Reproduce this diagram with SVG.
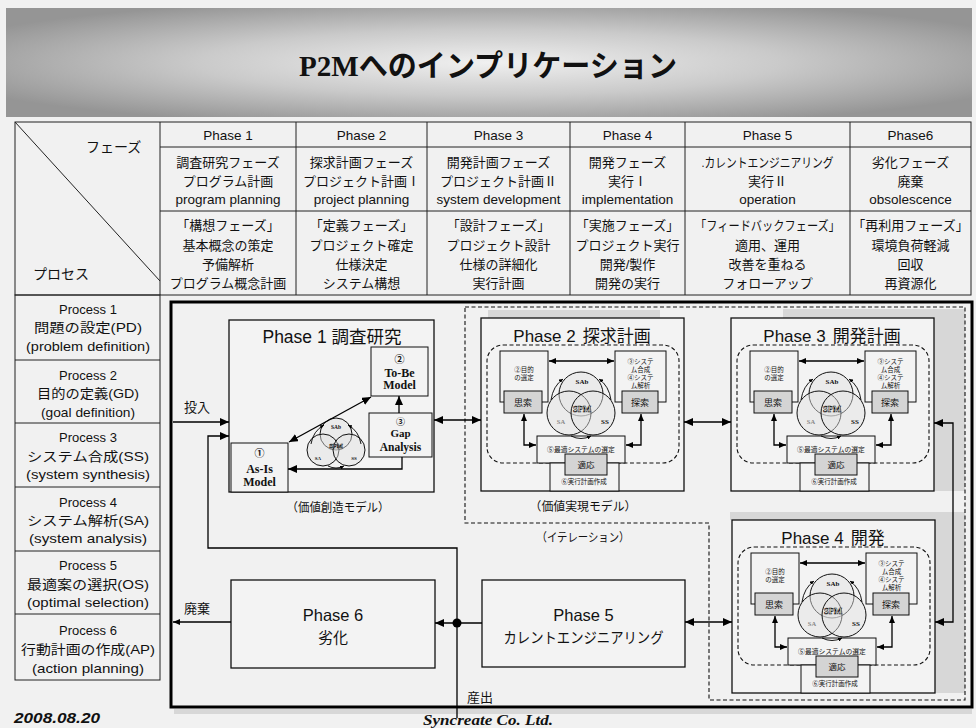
<svg xmlns="http://www.w3.org/2000/svg" width="976" height="728" viewBox="0 0 976 728">
<defs>
<radialGradient id="ban" cx="50%" cy="50%" r="60%">
<stop offset="0" stop-color="#f0f0f0"/>
<stop offset="0.5" stop-color="#cacaca"/>
<stop offset="1" stop-color="#959595"/>
</radialGradient>
<marker id="a8" viewBox="0 0 10 10" refX="10" refY="5" markerWidth="9" markerHeight="8" markerUnits="userSpaceOnUse" orient="auto-start-reverse" preserveAspectRatio="none"><path d="M0,0 L10,5 L0,10 z" fill="#000"/></marker>
<marker id="a6" viewBox="0 0 10 10" refX="10" refY="5" markerWidth="7" markerHeight="6" markerUnits="userSpaceOnUse" orient="auto-start-reverse" preserveAspectRatio="none"><path d="M0,0 L10,5 L0,10 z" fill="#000"/></marker>
<marker id="a3" viewBox="0 0 10 10" refX="10" refY="5" markerWidth="4" markerHeight="4" markerUnits="userSpaceOnUse" orient="auto" preserveAspectRatio="none"><path d="M0,0 L10,5 L0,10 z" fill="#000"/></marker>
<style>
.s{font-family:"Liberation Sans","Noto Sans CJK JP",sans-serif;fill:#111}
.sf{font-family:"Liberation Serif","Noto Sans CJK JP",serif;font-weight:bold;fill:#111}
.spm{font-family:"Liberation Serif",serif;font-weight:bold;fill:#fff;stroke:#111;stroke-width:0.5}
.c{text-anchor:middle}
.j13{font-size:13px}
.l13{font-size:13.5px}
.g{fill:none;stroke:#222;stroke-width:1}
.bx{fill:#f3f3f3;stroke:#111;stroke-width:1.3}
.ib{fill:#f3f3f3;stroke:#111;stroke-width:1}
.sb{fill:#d4d4d4;stroke:#111;stroke-width:1}
.dsh{fill:none;stroke:#111;stroke-width:1.1;stroke-dasharray:4 2.5}
.ln{fill:none;stroke:#000;stroke-width:1.3}
.lt{fill:none;stroke:#000;stroke-width:0.9}
.vn{fill:#e2e2e2;fill-opacity:0.45;stroke:#111;stroke-width:1}
.sh{fill:#d7d7d7}
.ph{font-size:17px}
.t6{font-size:6.5px}
.t9{font-size:9px}
</style>
</defs>

<rect x="0" y="0" width="976" height="728" fill="#f1f1f1"/>

<g id="banner">
<rect x="6" y="8" width="966" height="109" fill="url(#ban)"/>
<text class="sf c" x="488" y="76" font-size="30" textLength="378" lengthAdjust="spacingAndGlyphs">P2Mへのインプリケーション</text>
</g>

<g id="table">
<rect class="g" x="15" y="122" width="956" height="173" fill="#f4f4f4"/>
<line class="g" x1="160" y1="122" x2="160" y2="295"/>
<line class="g" x1="296" y1="122" x2="296" y2="295"/>
<line class="g" x1="427" y1="122" x2="427" y2="295"/>
<line class="g" x1="570" y1="122" x2="570" y2="295"/>
<line class="g" x1="685" y1="122" x2="685" y2="295"/>
<line class="g" x1="850" y1="122" x2="850" y2="295"/>
<line class="g" x1="160" y1="147" x2="971" y2="147"/>
<line class="g" x1="160" y1="211" x2="971" y2="211"/>
<line class="g" x1="15" y1="122" x2="160" y2="281"/>
<text class="s" x="86" y="152" font-size="14">フェーズ</text>
<text class="s" x="33" y="279" font-size="14">プロセス</text>

<g class="s c">
<text class="l13" x="228" y="139.5">Phase 1</text>
<text class="l13" x="361.5" y="139.5">Phase 2</text>
<text class="l13" x="498.5" y="139.5">Phase 3</text>
<text class="l13" x="627.5" y="139.5">Phase 4</text>
<text class="l13" x="767.5" y="139.5">Phase 5</text>
<text class="l13" x="910.5" y="139.5">Phase6</text>

<text class="j13" x="228" y="166.5">調査研究フェーズ</text>
<text class="j13" x="228" y="185.5">プログラム計画</text>
<text class="l13" x="228" y="203.5">program planning</text>
<text class="j13" x="361.5" y="166.5">探求計画フェーズ</text>
<text class="j13" x="361.5" y="185.5">プロジェクト計画Ⅰ</text>
<text class="l13" x="361.5" y="203.5">project planning</text>
<text class="j13" x="498.5" y="166.5">開発計画フェーズ</text>
<text class="j13" x="498.5" y="185.5">プロジェクト計画Ⅱ</text>
<text class="l13" x="498.5" y="203.5">system development</text>
<text class="j13" x="627.5" y="166.5">開発フェーズ</text>
<text class="j13" x="627.5" y="185.5">実行Ⅰ</text>
<text class="l13" x="627.5" y="203.5">implementation</text>
<text class="j13" x="767.5" y="166.5" textLength="132" lengthAdjust="spacingAndGlyphs">.カレントエンジニアリング</text>
<text class="j13" x="767.5" y="185.5">実行Ⅱ</text>
<text class="l13" x="767.5" y="203.5">operation</text>
<text class="j13" x="910.5" y="166.5">劣化フェーズ</text>
<text class="j13" x="910.5" y="185.5">廃棄</text>
<text class="l13" x="910.5" y="203.5">obsolescence</text>

<text class="j13" x="228" y="229.5">「構想フェーズ」</text>
<text class="j13" x="228" y="249.5">基本概念の策定</text>
<text class="j13" x="228" y="268.5">予備解析</text>
<text class="j13" x="228" y="287.5">プログラム概念計画</text>
<text class="j13" x="361.5" y="229.5">「定義フェーズ」</text>
<text class="j13" x="361.5" y="249.5">プロジェクト確定</text>
<text class="j13" x="361.5" y="268.5">仕様決定</text>
<text class="j13" x="361.5" y="287.5">システム構想</text>
<text class="j13" x="498.5" y="229.5">「設計フェーズ」</text>
<text class="j13" x="498.5" y="249.5">プロジェクト設計</text>
<text class="j13" x="498.5" y="268.5">仕様の詳細化</text>
<text class="j13" x="498.5" y="287.5">実行計画</text>
<text class="j13" x="627.5" y="229.5">「実施フェーズ」</text>
<text class="j13" x="627.5" y="249.5">プロジェクト実行</text>
<text class="j13" x="627.5" y="268.5">開発/製作</text>
<text class="j13" x="627.5" y="287.5">開発の実行</text>
<text class="j13" x="767.5" y="229.5" textLength="145" lengthAdjust="spacingAndGlyphs">「フィードバックフェーズ」</text>
<text class="j13" x="767.5" y="249.5">適用、運用</text>
<text class="j13" x="767.5" y="268.5">改善を重ねる</text>
<text class="j13" x="767.5" y="287.5">フォローアップ</text>
<text class="j13" x="910.5" y="229.5">「再利用フェーズ」</text>
<text class="j13" x="910.5" y="249.5">環境負荷軽減</text>
<text class="j13" x="910.5" y="268.5">回収</text>
<text class="j13" x="910.5" y="287.5">再資源化</text>
</g>
</g>

<g id="processes">
<rect class="g" x="15" y="295" width="145" height="385" fill="#f4f4f4"/>
<line class="g" x1="15" y1="360" x2="160" y2="360"/>
<line class="g" x1="15" y1="423" x2="160" y2="423"/>
<line class="g" x1="15" y1="487" x2="160" y2="487"/>
<line class="g" x1="15" y1="551" x2="160" y2="551"/>
<line class="g" x1="15" y1="614" x2="160" y2="614"/>
<g class="s c" font-size="13">
<text x="88" y="313.5">Process 1</text>
<text x="88" y="331.5" textLength="108" lengthAdjust="spacingAndGlyphs">問題の設定(PD)</text>
<text x="88" y="350.5" textLength="124" lengthAdjust="spacingAndGlyphs">(problem definition)</text>
<text x="88" y="379.5">Process 2</text>
<text x="88" y="397.5" textLength="102" lengthAdjust="spacingAndGlyphs">目的の定義(GD)</text>
<text x="88" y="416.5" textLength="94" lengthAdjust="spacingAndGlyphs">(goal definition)</text>
<text x="88" y="441.5">Process 3</text>
<text x="88" y="460.5" textLength="122" lengthAdjust="spacingAndGlyphs">システム合成(SS)</text>
<text x="88" y="478.5" textLength="124" lengthAdjust="spacingAndGlyphs">(system synthesis)</text>
<text x="88" y="506.5">Process 4</text>
<text x="88" y="524.5" textLength="122" lengthAdjust="spacingAndGlyphs">システム解析(SA)</text>
<text x="88" y="542.5" textLength="118" lengthAdjust="spacingAndGlyphs">(system analysis)</text>
<text x="88" y="569.5">Process 5</text>
<text x="88" y="588.5" textLength="122" lengthAdjust="spacingAndGlyphs">最適案の選択(OS)</text>
<text x="88" y="606.5" textLength="122" lengthAdjust="spacingAndGlyphs">(optimal selection)</text>
<text x="88" y="634.5">Process 6</text>
<text x="88" y="653.5" textLength="134" lengthAdjust="spacingAndGlyphs">行動計画の作成(AP)</text>
<text x="88" y="672.5" textLength="112" lengthAdjust="spacingAndGlyphs">(action planning)</text>
</g>
</g>

<g id="shades">
<rect class="sh" x="488" y="310" width="172" height="8"/>
<rect class="sh" x="783" y="309" width="182" height="9"/>
<rect class="sh" x="933" y="318" width="32" height="173"/>
<rect class="sh" x="730" y="512" width="235" height="8"/>
<rect class="sh" x="935" y="520" width="30" height="173"/>
<rect class="sh" x="174" y="709" width="798" height="5"/>
</g>

<g id="frame">
<rect x="171" y="302" width="801" height="405" fill="none" stroke="#000" stroke-width="3"/>
</g>

<g id="iteration">
<path class="dsh" d="M465,307 H965 V700 H709 V523 H465 Z"/>
<text class="s c" x="583" y="542" font-size="12" textLength="93" lengthAdjust="spacingAndGlyphs">（イテレーション）</text>
</g>

<g id="phase1">
<rect class="bx" x="229" y="320" width="205" height="172"/>
<text class="s c" x="332" y="343" font-size="17.5">Phase 1 調査研究</text>
<text class="s c" x="338" y="512" font-size="12" textLength="103" lengthAdjust="spacingAndGlyphs">（価値創造モデル）</text>
<g id="venn1">
<circle class="vn" cx="336" cy="434" r="16"/>
<circle class="vn" cx="323" cy="450" r="16"/>
<circle class="vn" cx="349" cy="450" r="16"/>
<path class="lt" d="M311,444 Q313,431 324,425" marker-end="url(#a3)"/>
<path class="lt" d="M361,444 Q359,431 348,425" marker-end="url(#a3)"/>
<path class="lt" d="M328,466 Q336,470 344,466" marker-end="url(#a3)"/>
<text class="sf c" x="336" y="429" font-size="5.5">SAb</text>
<text class="spm c" x="336" y="448" font-size="6.5" stroke-width="0.4">SPM</text>
<text class="sf c" x="318" y="460" font-size="5">SA</text>
<text class="sf c" x="354" y="460" font-size="5">SS</text>
</g>
<g id="tobe">
<rect class="ib" x="371" y="347" width="57" height="49" stroke-width="1.3"/>
<text class="sf c" x="399.5" y="363" font-size="10">②</text>
<text class="sf c" x="399.5" y="376.5" font-size="12">To-Be</text>
<text class="sf c" x="399.5" y="389" font-size="12">Model</text>
</g>
<g id="gap">
<rect class="ib" x="369" y="413" width="63" height="44" stroke-width="1.3"/>
<text class="sf c" x="400.5" y="424.5" font-size="9">③</text>
<text class="sf c" x="400.5" y="437" font-size="11">Gap</text>
<text class="sf c" x="400.5" y="451" font-size="11.5">Analysis</text>
</g>
<g id="asis">
<rect class="ib" x="231" y="443" width="57" height="49" stroke-width="1.3"/>
<text class="sf c" x="259.5" y="457" font-size="10">①</text>
<text class="sf c" x="259.5" y="473" font-size="12">As-Is</text>
<text class="sf c" x="259.5" y="485.5" font-size="12">Model</text>
</g>
</g>

<g id="phase2" transform="translate(481,318)">
<rect class="bx" x="0" y="0" width="203" height="173"/>
<text class="s c ph" x="101" y="24">Phase 2<tspan dx="7">探求計画</tspan></text>
<rect class="dsh" x="6" y="27" width="192" height="118" rx="16"/>
<rect class="ib" x="19" y="33" width="48" height="51"/>
<rect class="ib" x="134" y="33" width="51" height="51"/>
<circle class="vn" cx="100" cy="76" r="22"/>
<circle class="vn" cx="88" cy="95" r="22"/>
<circle class="vn" cx="112" cy="95" r="22"/>
<rect class="sb" x="23" y="73" width="38" height="22"/>
<rect class="sb" x="141" y="73" width="36" height="22"/>
<rect class="ib" x="56" y="118" width="88" height="27"/>
<rect class="ib" x="69" y="145" width="69" height="28"/>
<rect class="sb" x="84" y="136" width="42" height="21"/>
<line class="ln" x1="68" y1="43" x2="133" y2="43" marker-start="url(#a6)" marker-end="url(#a6)"/>
<path class="ln" d="M43,96 V127 H55" marker-start="url(#a6)" marker-end="url(#a6)"/>
<path class="ln" d="M160,96 V127 H145" marker-start="url(#a6)" marker-end="url(#a6)"/>
<path class="lt" d="M70,82 Q72,68 82,61" marker-end="url(#a3)"/>
<path class="lt" d="M130,82 Q128,68 118,61" marker-end="url(#a3)"/>
<path class="lt" d="M90,118 Q100,123 110,118" marker-end="url(#a3)"/>
<text class="s c t6" x="43" y="54">②目的</text>
<text class="s c t6" x="43" y="62">の選定</text>
<text class="s c t6" x="159.5" y="46">③システ</text>
<text class="s c t6" x="159.5" y="54">ム合成</text>
<text class="s c t6" x="159.5" y="62">④システ</text>
<text class="s c t6" x="159.5" y="70">ム解析</text>
<text class="s c t9" x="42" y="88">思索</text>
<text class="s c t9" x="159" y="88">探索</text>
<text class="sf c" x="101" y="66" font-size="7">SAb</text>
<text class="spm c" x="101" y="94" font-size="8.5">SPM</text>
<text class="sf c" x="124" y="106" font-size="7">SS</text>
<text class="sf c" x="80" y="106" font-size="6.5" style="fill:#888">SA</text>
<text class="s c" x="100" y="134" font-size="6.8">⑤最適システムの選定</text>
<text class="s c" x="105" y="150" font-size="8.5">適応</text>
<text class="s c t6" x="103" y="166">⑥実行計画作成</text>
</g>

<g id="phase3" transform="translate(731,318)">
<rect class="bx" x="0" y="0" width="203" height="173"/>
<text class="s c ph" x="101" y="24">Phase 3<tspan dx="7">開発計画</tspan></text>
<rect class="dsh" x="6" y="27" width="192" height="118" rx="16"/>
<rect class="ib" x="19" y="33" width="48" height="51"/>
<rect class="ib" x="134" y="33" width="51" height="51"/>
<circle class="vn" cx="100" cy="76" r="22"/>
<circle class="vn" cx="88" cy="95" r="22"/>
<circle class="vn" cx="112" cy="95" r="22"/>
<rect class="sb" x="23" y="73" width="38" height="22"/>
<rect class="sb" x="141" y="73" width="36" height="22"/>
<rect class="ib" x="56" y="118" width="88" height="27"/>
<rect class="ib" x="69" y="145" width="69" height="28"/>
<rect class="sb" x="84" y="136" width="42" height="21"/>
<line class="ln" x1="68" y1="43" x2="133" y2="43" marker-start="url(#a6)" marker-end="url(#a6)"/>
<path class="ln" d="M43,96 V127 H55" marker-start="url(#a6)" marker-end="url(#a6)"/>
<path class="ln" d="M160,96 V127 H145" marker-start="url(#a6)" marker-end="url(#a6)"/>
<path class="lt" d="M70,82 Q72,68 82,61" marker-end="url(#a3)"/>
<path class="lt" d="M130,82 Q128,68 118,61" marker-end="url(#a3)"/>
<path class="lt" d="M90,118 Q100,123 110,118" marker-end="url(#a3)"/>
<text class="s c t6" x="43" y="54">②目的</text>
<text class="s c t6" x="43" y="62">の選定</text>
<text class="s c t6" x="159.5" y="46">③システ</text>
<text class="s c t6" x="159.5" y="54">ム合成</text>
<text class="s c t6" x="159.5" y="62">④システ</text>
<text class="s c t6" x="159.5" y="70">ム解析</text>
<text class="s c t9" x="42" y="88">思索</text>
<text class="s c t9" x="159" y="88">探索</text>
<text class="sf c" x="101" y="66" font-size="7">SAb</text>
<text class="spm c" x="101" y="94" font-size="8.5">SPM</text>
<text class="sf c" x="124" y="106" font-size="7">SS</text>
<text class="sf c" x="80" y="106" font-size="6.5" style="fill:#888">SA</text>
<text class="s c" x="100" y="134" font-size="6.8">⑤最適システムの選定</text>
<text class="s c" x="105" y="150" font-size="8.5">適応</text>
<text class="s c t6" x="103" y="166">⑥実行計画作成</text>
</g>

<g id="phase4" transform="translate(732,520)">
<rect class="bx" x="0" y="0" width="203" height="173"/>
<text class="s c ph" x="101" y="24">Phase 4<tspan dx="7">開発</tspan></text>
<rect class="dsh" x="6" y="27" width="192" height="118" rx="16"/>
<rect class="ib" x="19" y="33" width="48" height="51"/>
<rect class="ib" x="134" y="33" width="51" height="51"/>
<circle class="vn" cx="100" cy="76" r="22"/>
<circle class="vn" cx="88" cy="95" r="22"/>
<circle class="vn" cx="112" cy="95" r="22"/>
<rect class="sb" x="23" y="73" width="38" height="22"/>
<rect class="sb" x="141" y="73" width="36" height="22"/>
<rect class="ib" x="56" y="118" width="88" height="27"/>
<rect class="ib" x="69" y="145" width="69" height="28"/>
<rect class="sb" x="84" y="136" width="42" height="21"/>
<line class="ln" x1="68" y1="43" x2="133" y2="43" marker-start="url(#a6)" marker-end="url(#a6)"/>
<path class="ln" d="M43,96 V127 H55" marker-start="url(#a6)" marker-end="url(#a6)"/>
<path class="ln" d="M160,96 V127 H145" marker-start="url(#a6)" marker-end="url(#a6)"/>
<path class="lt" d="M70,82 Q72,68 82,61" marker-end="url(#a3)"/>
<path class="lt" d="M130,82 Q128,68 118,61" marker-end="url(#a3)"/>
<path class="lt" d="M90,118 Q100,123 110,118" marker-end="url(#a3)"/>
<text class="s c t6" x="43" y="54">②目的</text>
<text class="s c t6" x="43" y="62">の選定</text>
<text class="s c t6" x="159.5" y="46">③システ</text>
<text class="s c t6" x="159.5" y="54">ム合成</text>
<text class="s c t6" x="159.5" y="62">④システ</text>
<text class="s c t6" x="159.5" y="70">ム解析</text>
<text class="s c t9" x="42" y="88">思索</text>
<text class="s c t9" x="159" y="88">探索</text>
<text class="sf c" x="101" y="66" font-size="7">SAb</text>
<text class="spm c" x="101" y="94" font-size="8.5">SPM</text>
<text class="sf c" x="124" y="106" font-size="7">SS</text>
<text class="sf c" x="80" y="106" font-size="6.5" style="fill:#888">SA</text>
<text class="s c" x="100" y="134" font-size="6.8">⑤最適システムの選定</text>
<text class="s c" x="105" y="150" font-size="8.5">適応</text>
<text class="s c t6" x="103" y="166">⑥実行計画作成</text>
</g>

<text class="s c" x="583" y="511" font-size="12" textLength="107" lengthAdjust="spacingAndGlyphs">（価値実現モデル）</text>

<g id="phase5">
<rect class="bx" x="482" y="580" width="203" height="87"/>
<text class="s c" x="583.5" y="621" font-size="16.5">Phase 5</text>
<text class="s c" x="583.5" y="643" font-size="15" textLength="160" lengthAdjust="spacingAndGlyphs">カレントエンジニアリング</text>
</g>

<g id="phase6">
<rect class="bx" x="231" y="580" width="204" height="88"/>
<text class="s c" x="333" y="621" font-size="16.5">Phase 6</text>
<text class="s c" x="333" y="643" font-size="15">劣化</text>
</g>

<g id="connectors">
<line class="ln" x1="173" y1="422" x2="229" y2="422" marker-end="url(#a8)"/>
<path class="ln" d="M457,718 V548 H208 V436 H229" marker-end="url(#a8)"/>
<line class="ln" x1="434" y1="420" x2="481" y2="420" marker-start="url(#a8)" marker-end="url(#a8)"/>
<line class="ln" x1="684" y1="422" x2="731" y2="422" marker-start="url(#a8)" marker-end="url(#a8)"/>
<path class="ln" d="M935,622 H953 V423 H934" marker-start="url(#a8)" marker-end="url(#a8)"/>
<line class="ln" x1="685" y1="622" x2="732" y2="622" marker-start="url(#a8)" marker-end="url(#a8)"/>
<line class="ln" x1="482" y1="623" x2="435" y2="623" marker-end="url(#a8)"/>
<circle cx="457" cy="623" r="4.5" fill="#000"/>
<line class="ln" x1="231" y1="622" x2="173" y2="622" marker-end="url(#a6)"/>
<line class="ln" x1="289" y1="442" x2="371" y2="397" marker-start="url(#a8)" marker-end="url(#a8)"/>
<line class="ln" x1="399" y1="413" x2="399" y2="396" marker-end="url(#a8)"/>
<path class="ln" d="M402,457 V469 H288" marker-end="url(#a8)"/>
<text class="s" x="184" y="412" font-size="13">投入</text>
<text class="s" x="184" y="613" font-size="13">廃棄</text>
<text class="s" x="467" y="702" font-size="13">産出</text>
</g>

<g id="footer">
<text x="14" y="723" font-family="Liberation Sans, sans-serif" font-weight="bold" font-style="italic" font-size="15" textLength="86" lengthAdjust="spacingAndGlyphs" fill="#111">2008.08.20</text>
<text x="423" y="725" font-family="Liberation Serif, serif" font-weight="bold" font-style="italic" font-size="14" textLength="130" lengthAdjust="spacingAndGlyphs" fill="#111">Syncreate Co. Ltd.</text>
</g>
</svg>
